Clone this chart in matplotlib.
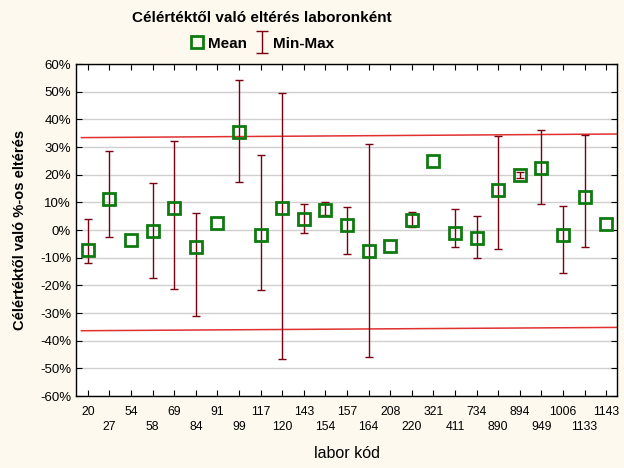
import matplotlib.pyplot as plt
from matplotlib.lines import Line2D
from matplotlib.path import Path
import numpy as np

plt.rcParams['font.family'] = ['Liberation Sans', 'DejaVu Sans']

# labor codes and values (%)
labs = ['20', '27', '54', '58', '69', '84', '91', '99', '117', '120', '143', '154', '157',
        '164', '208', '220', '321', '411', '734', '890', '894', '949', '1006', '1133', '1143']
means = [-7.4, 11.1, -3.7, -0.5, 7.8, -6.3, 2.4, 35.4, -1.9, 7.8, 3.9, 7.1, 1.8,
         -7.6, -5.8, 3.6, 24.9, -1.2, -3.0, 14.3, 19.8, 22.4, -1.8, 11.9, 2.2]
mins = [-12.0, -2.6, -3.7, -17.5, -21.4, -31.2, 2.4, 17.2, -21.7, -46.7, -1.1, 5.5, -8.8,
        -45.9, -5.8, 1.0, 24.9, -6.3, -10.2, -7.0, 18.8, 9.3, -15.5, -6.3, 2.2]
maxs = [3.9, 28.5, -3.7, 16.9, 32.2, 6.0, 2.4, 54.1, 27.0, 49.5, 9.5, 10.2, 8.2,
        31.0, -5.8, 6.6, 24.9, 7.5, 5.1, 34.0, 20.8, 36.0, 8.6, 34.2, 2.2]
# limit lines (left end, right end)
upper_line = [33.4, 34.7]
lower_line = [-36.4, -35.2]

bg = '#FDF9EE'
green = '#0F7A0F'
dark_red = '#7A0010'

fig = plt.figure(figsize=(6.24, 4.68), dpi=100, facecolor=bg)
ax = fig.add_axes([0.1218, 0.1538, 0.867, 0.7094])
ax.set_facecolor('white')

x = np.arange(len(labs))
m = np.array(means)
lo = m - np.array(mins)
hi = np.array(maxs) - m
has_bar = (lo + hi) > 0.5

ax.errorbar(x[has_bar], m[has_bar], yerr=[lo[has_bar], hi[has_bar]], fmt='none',
            ecolor=dark_red, elinewidth=1.0, capsize=3, capthick=1.0, zorder=3)
ax.plot(x, m, 's', ms=9, mfc='none', mec=green, mew=2.0, zorder=4, linestyle='none')

ax.plot([-0.3, 24.5], upper_line, color='#E03030', lw=1.1, zorder=2)
ax.plot([-0.3, 24.5], lower_line, color='#E03030', lw=1.1, zorder=2)

ax.set_xlim(-0.55, 24.5)
ax.set_ylim(-60, 60)
ax.set_yticks(np.arange(-60, 61, 10))
ax.set_yticklabels([f'{v}%' for v in range(-60, 61, 10)], fontsize=9.5)

# two rows of category labels: even ones as major ticks, odd ones as minor ticks
ax.set_xticks(x[::2])
ax.set_xticklabels(labs[::2], fontsize=8.7)
ax.set_xticks(x[1::2], minor=True)
ax.set_xticklabels(labs[1::2], minor=True, fontsize=8.7)
ax.tick_params(which='both', direction='in', top=True, right=True, length=4, width=0.8,
               color='black')
ax.tick_params(axis='x', which='major', pad=7)
ax.tick_params(axis='x', which='minor', pad=18)
ax.yaxis.grid(True, color='#D0D0D0', lw=1.0)
ax.set_axisbelow(True)
for s in ax.spines.values():
    s.set_color('black')
    s.set_linewidth(1.0)

ax.set_xlabel('labor kód', fontsize=11.5, labelpad=9)
ax.set_ylabel('Célértéktől való %-os eltérés', fontsize=10.5, fontweight='bold', labelpad=9)

cx = 262 / 624
fig.text(cx, 0.962, 'Célértéktől való eltérés laboronként', ha='center', va='center',
         fontsize=11, fontweight='bold')

ibeam = Path([(-0.5, 1), (0.5, 1), (0, 1), (0, -1), (-0.5, -1), (0.5, -1)],
             [Path.MOVETO, Path.LINETO, Path.MOVETO, Path.LINETO, Path.MOVETO, Path.LINETO])
h_mean = Line2D([], [], marker='s', ms=9, mfc='none', mec=green, mew=2, linestyle='none')
h_err = Line2D([], [], marker=ibeam, ms=16, mfc='none', mec=dark_red, mew=1.0, linestyle='none')
fig.legend([h_mean, h_err], ['Mean', 'Min-Max'], loc='center', bbox_to_anchor=(cx, 0.907),
           ncol=2, frameon=False, prop={'weight': 'bold', 'size': 11}, handlelength=1.0,
           handletextpad=0.2, columnspacing=0.5)

fig.savefig('out.png', dpi=100, facecolor=bg)
